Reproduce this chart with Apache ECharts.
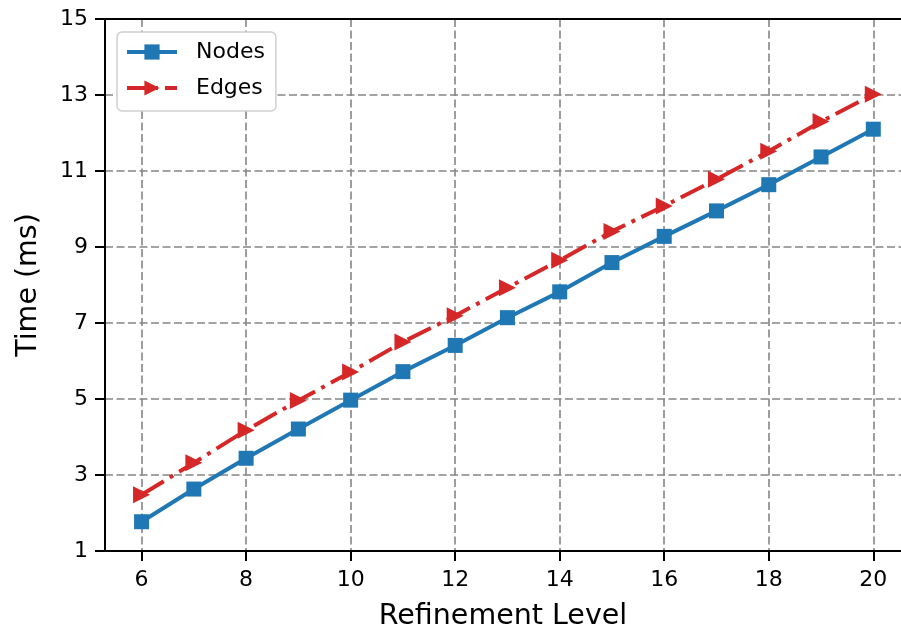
<!DOCTYPE html>
<html>
<head>
<meta charset="utf-8">
<script src="https://cdn.jsdelivr.net/npm/echarts@6/dist/echarts.min.js"></script>
<style>
html,body{margin:0;padding:0;background:#fff;}
#chart{width:901px;height:633px;}
</style>
</head>
<body>
<div id="chart"></div>
<script>
const levels = [6, 7, 8, 9, 10, 11, 12, 13, 14, 15, 16, 17, 18, 19, 20];
const nodesTime = [1.77, 2.63, 3.44, 4.21, 4.97, 5.72, 6.41, 7.14, 7.82, 8.59, 9.28, 9.95, 10.64, 11.37, 12.10];
const edgesTime = [2.48, 3.32, 4.18, 4.96, 5.71, 6.50, 7.19, 7.93, 8.65, 9.41, 10.08, 10.78, 11.52, 12.30, 13.02];
const xTicks = [6, 8, 10, 12, 14, 16, 18, 20];
const yTicks = [1, 3, 5, 7, 9, 11, 13, 15];

const FONT = 'DejaVu Sans';
const BLUE = '#1f77b4', RED = '#d62728';
const chart = echarts.init(document.getElementById('chart'), null, {renderer: 'canvas'});

const gridLine = {show: true, lineStyle: {color: '#858585', width: 1.6, type: [8, 3.5]}};
const X_MIN = 5.3, X_MAX = 20.53;

chart.setOption({
  animation: false,
  backgroundColor: '#fff',
  textStyle: {fontFamily: FONT},
  grid: {left: 105, top: 19, right: 0, height: 532, show: false, outerBoundsMode: 'none', containLabel: false},
  legend: {
    orient: 'vertical', left: 117, top: 32,
    padding: [9, 11, 12, 8],
    itemWidth: 50, itemHeight: 19, itemGap: 14,
    backgroundColor: '#fff', borderColor: '#d0d0d0', borderWidth: 1.5, borderRadius: 5,
    textStyle: {fontFamily: FONT, fontSize: 22, color: '#000', padding: [0, 0, 0, 14]},
    data: [
      {name: 'Nodes', lineStyle: {width: 4, color: BLUE, type: 'solid'}},
      {name: 'Edges', lineStyle: {width: 4, color: RED, type: [20, 7, 4, 7]}}
    ]
  },
  xAxis: [{
    type: 'value', min: X_MIN, max: X_MAX,
    name: 'Refinement Level', nameLocation: 'middle', nameGap: 51,
    nameTextStyle: {fontFamily: FONT, fontSize: 28.5, color: '#000'},
    axisLine: {show: true, onZero: false, lineStyle: {color: '#000', width: 2}},
    axisTick: {show: true, length: 10, lineStyle: {color: '#000', width: 2}, customValues: xTicks},
    axisLabel: {fontFamily: FONT, fontSize: 22, color: '#000', margin: 18, customValues: xTicks},
    splitLine: gridLine
  }, {
    type: 'value', min: X_MIN, max: X_MAX, position: 'top',
    axisLine: {show: true, onZero: false, lineStyle: {color: '#000', width: 2}},
    axisTick: {show: false}, axisLabel: {show: false}, splitLine: {show: false}
  }],
  yAxis: {
    type: 'value', min: 1, max: 15,
    name: 'Time (ms)', nameLocation: 'middle', nameGap: 62,
    nameTextStyle: {fontFamily: FONT, fontSize: 28.5, color: '#000'},
    axisLine: {show: true, onZero: false, lineStyle: {color: '#000', width: 2}},
    axisTick: {show: true, length: 10, lineStyle: {color: '#000', width: 2}, customValues: yTicks},
    axisLabel: {fontFamily: FONT, fontSize: 22, color: '#000', margin: 17, customValues: yTicks},
    splitLine: gridLine
  },
  series: [
    {
      name: 'Nodes', type: 'line', xAxisIndex: 0,
      data: levels.map((x, i) => [x, nodesTime[i]]),
      symbol: 'rect', symbolSize: 15,
      itemStyle: {color: BLUE},
      lineStyle: {color: BLUE, width: 4},
      z: 3
    },
    {
      name: 'Edges', type: 'line', xAxisIndex: 0,
      data: levels.map((x, i) => [x, edgesTime[i]]),
      symbol: 'triangle', symbolSize: 17, symbolRotate: -90,
      itemStyle: {color: RED},
      lineStyle: {color: RED, width: 4, type: [26, 7, 4, 7]},
      z: 4
    }
  ]
});
</script>
</body>
</html>
